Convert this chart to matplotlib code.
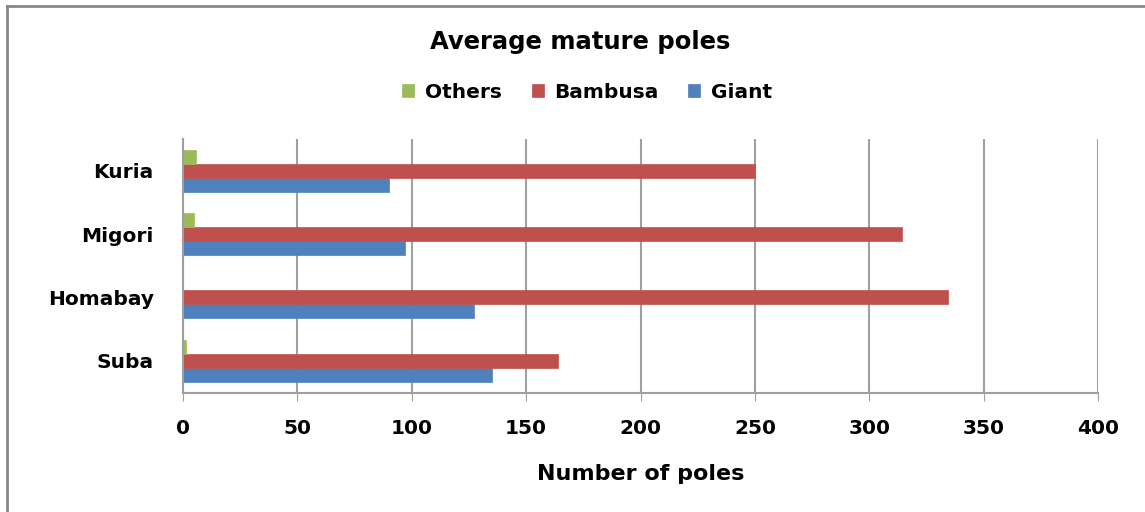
import matplotlib.pyplot as plt
import numpy as np
from matplotlib.lines import Line2D

regions = ['Suba', 'Homabay', 'Migori', 'Kuria']
giant = [135, 127, 97, 90]
bambusa = [164, 334.5, 314.5, 250]
others = [1.5, 0, 5, 5.5]

plt.rcParams['font.family'] = ['DejaVu Sans']
plt.rcParams['font.weight'] = 'bold'

fig = plt.figure(figsize=(11.45, 5.12), dpi=100)
ax = fig.add_axes([183 / 1145, 1 - 392.5 / 512, (1098 - 183) / 1145, (392.5 - 139) / 512])

y = np.arange(len(regions))
h = 0.22
ax.barh(y - h, giant, height=h, color='#4f81bd', label='Giant', edgecolor='#4f81bd', linewidth=0.5)
ax.barh(y, bambusa, height=h, color='#c0504d', label='Bambusa', edgecolor='#c0504d', linewidth=0.5)
ax.barh(y + h, others, height=h, color='#9bbb59', label='Others', edgecolor='#9bbb59', linewidth=0.5)

ax.set_xlim(0, 400)
ax.set_ylim(-0.5, 3.5)
ax.set_xticks(range(0, 401, 50))
ax.set_yticks(y)
ax.set_yticklabels(regions)
ax.tick_params(axis='y', length=0, pad=21, labelsize=14.5)
ax.tick_params(axis='x', length=6, color='#a0a0a0', pad=13, labelsize=14.5)
ax.grid(axis='x', color='#a0a0a0', linewidth=1.5)
ax.set_axisbelow(True)
for s in ['top', 'right']:
    ax.spines[s].set_visible(False)
for s in ['left', 'bottom']:
    ax.spines[s].set_color('#a0a0a0')
    ax.spines[s].set_linewidth(1.5)

ax.set_xlabel('Number of poles', fontsize=16, fontweight='bold', labelpad=19)

fig.text(580 / 1145, 1 - 42 / 512, 'Average mature poles', ha='center', va='center',
         fontsize=17.5, fontweight='bold')

handles, labels = ax.get_legend_handles_labels()
fig.legend(handles[::-1], labels[::-1], loc='center', bbox_to_anchor=(587 / 1145, 1 - 92 / 512),
           ncol=3, frameon=False, fontsize=14.5, handlelength=0.6, handleheight=0.6,
           handletextpad=0.5, columnspacing=1.5)

# outer chart border
fig.add_artist(Line2D([7 / 1145, 1], [1 - 6 / 512, 1 - 6 / 512], transform=fig.transFigure,
                      color='#888888', linewidth=2))
fig.add_artist(Line2D([7 / 1145, 7 / 1145], [0, 1 - 6 / 512], transform=fig.transFigure,
                      color='#888888', linewidth=2))

fig.savefig('out.png', dpi=100)
